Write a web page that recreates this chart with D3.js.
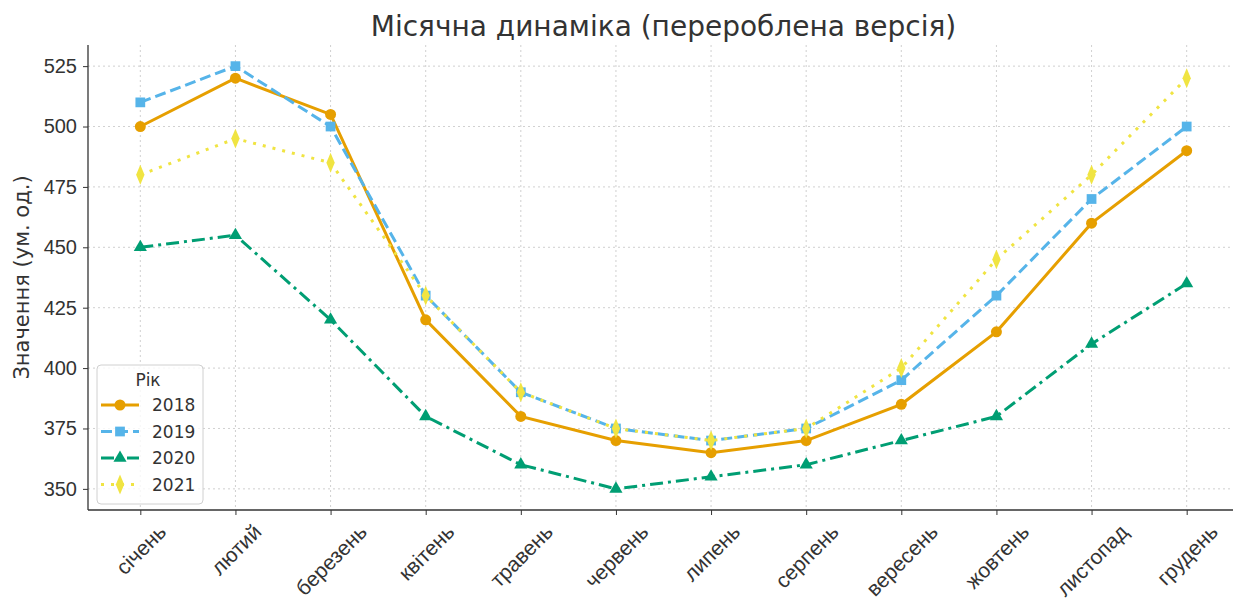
<!DOCTYPE html>
<html>
<head>
<meta charset="utf-8">
<script src="https://cdn.jsdelivr.net/npm/d3@7"></script>
<style>
  body { margin: 0; background: #fff; }
  svg { font-family: "DejaVu Sans", sans-serif; }
</style>
</head>
<body>
<div id="chart"></div>
<script>
var months = ["січень", "лютий", "березень", "квітень", "травень", "червень",
              "липень", "серпень", "вересень", "жовтень", "листопад", "грудень"];
var years = ["2018", "2019", "2020", "2021"];
var v2018 = [500, 520, 505, 420, 380, 370, 365, 370, 385, 415, 460, 490];
var v2019 = [510, 525, 500, 430, 390, 375, 370, 375, 395, 430, 470, 500];
var v2020 = [450, 455, 420, 380, 360, 350, 355, 360, 370, 380, 410, 435];
var v2021 = [480, 495, 485, 430, 390, 375, 370, 375, 400, 445, 480, 520];
var yTicks = [350, 375, 400, 425, 450, 475, 500, 525];

var colors = ["#E69F00", "#56B4E9", "#009E73", "#F0E442"];
var dashes = [null, "11,5", "13,5,3,5", "3,7"];
var symbols = [d3.symbolCircle, d3.symbolSquare, d3.symbolTriangle, d3.symbolDiamond];

var series = [v2018, v2019, v2020, v2021].map(function(v, i) {
  return { name: years[i], values: v, color: colors[i], dash: dashes[i], symbol: symbols[i] };
});

var W = 1233, H = 599;
var margin = {top: 45, right: -6, bottom: 89, left: 88},
    width = W - margin.left - margin.right,
    height = H - margin.top - margin.bottom;

var svg = d3.select("#chart").append("svg")
    .attr("width", W)
    .attr("height", H);

var g = svg.append("g")
    .attr("transform", "translate(" + margin.left + "," + margin.top + ")");

var x = d3.scaleLinear().domain([-0.55, 11.55]).range([0, width]);
var y = d3.scaleLinear().domain([341.25, 533.75]).range([height, 0]);

// grid
g.append("g").selectAll("line.gx")
    .data(d3.range(months.length))
  .enter().append("line")
    .attr("x1", function(d) { return x(d); })
    .attr("x2", function(d) { return x(d); })
    .attr("y1", 0).attr("y2", height)
    .attr("stroke", "#b0b0b0").attr("stroke-opacity", 0.6)
    .attr("stroke-width", 1).attr("stroke-dasharray", "2,3");

g.append("g").selectAll("line.gy")
    .data(yTicks)
  .enter().append("line")
    .attr("x1", 0).attr("x2", width)
    .attr("y1", function(d) { return y(d); })
    .attr("y2", function(d) { return y(d); })
    .attr("stroke", "#b0b0b0").attr("stroke-opacity", 0.6)
    .attr("stroke-width", 1).attr("stroke-dasharray", "2,3");

// axes
var yAxis = d3.axisLeft(y).tickValues(yTicks).tickSize(5).tickPadding(6);
var yg = g.append("g").call(yAxis);
yg.selectAll("text").style("font-size", "20px").attr("fill", "#333");
yg.selectAll("line").attr("stroke", "#333");
yg.select(".domain").attr("stroke", "#333").attr("stroke-width", 1.3)
    .attr("d", "M0," + height + "V0");

var xAxis = d3.axisBottom(x).tickValues(d3.range(months.length))
    .tickSize(5).tickFormat(function(d) { return months[d]; });
var xg = g.append("g").attr("transform", "translate(0," + height + ")").call(xAxis);
xg.selectAll("line").attr("stroke", "#333");
xg.select(".domain").attr("stroke", "#333").attr("stroke-width", 1.3)
    .attr("d", "M0,0H" + width);
xg.selectAll("text")
    .style("font-size", "21px")
    .attr("fill", "#333")
    .attr("text-anchor", "middle")
    .attr("dominant-baseline", "central")
    .attr("dy", null)
    .each(function(d) {
      var t = d3.select(this);
      var w = this.getComputedTextLength();
      var h = 17;
      var half = (w + h) * Math.SQRT1_2 / 2;
      var cy = 12 + half;
      t.attr("y", 0).attr("x", 0)
       .attr("transform", "translate(0," + cy + ") rotate(-45)");
    });

// lines
var line = d3.line()
    .x(function(d, i) { return x(i); })
    .y(function(d) { return y(d); });

var sg = g.selectAll(".series")
    .data(series)
  .enter().append("g")
    .attr("class", "series");

sg.append("path")
    .attr("d", function(d) { return line(d.values); })
    .attr("fill", "none")
    .attr("stroke", function(d) { return d.color; })
    .attr("stroke-width", 3)
    .attr("stroke-dasharray", function(d) { return d.dash; });

function markerSize(s) { return s === d3.symbolTriangle ? 75 : 95; }
function markerTr(s) { return s === d3.symbolDiamond ? " scale(0.8,1.1)" : ""; }

sg.each(function(s) {
  var sym = d3.symbol().type(s.symbol).size(markerSize(s.symbol));
  d3.select(this).selectAll("path.pt")
      .data(s.values)
    .enter().append("path")
      .attr("class", "pt")
      .attr("d", sym)
      .attr("fill", s.color)
      .attr("transform", function(d, i) {
        return "translate(" + x(i) + "," + y(d) + ")" + markerTr(s.symbol);
      });
});

// title & labels
svg.append("text")
    .attr("x", margin.left + width / 2)
    .attr("y", 36)
    .attr("text-anchor", "middle")
    .style("font-size", "28px")
    .attr("fill", "#333")
    .text("Місячна динаміка (перероблена версія)");

svg.append("text")
    .attr("transform", "translate(29," + (margin.top + height / 2) + ") rotate(-90)")
    .attr("text-anchor", "middle")
    .style("font-size", "21px")
    .attr("fill", "#333")
    .text("Значення (ум. од.)");

// legend
var lg = g.append("g").attr("transform", "translate(" + (97 - margin.left) + "," + (365 - margin.top) + ")");
lg.append("rect")
    .attr("width", 106).attr("height", 139)
    .attr("rx", 4)
    .attr("fill", "#fff").attr("fill-opacity", 0.8)
    .attr("stroke", "#d0d0d0");
lg.append("text")
    .attr("x", 51).attr("y", 21)
    .attr("text-anchor", "middle")
    .style("font-size", "17px")
    .attr("fill", "#333")
    .text("Рік");

var item = lg.selectAll(".item")
    .data(series)
  .enter().append("g")
    .attr("transform", function(d, i) { return "translate(0," + (40 + i * 26.5) + ")"; });

item.append("line")
    .attr("x1", 4).attr("x2", 42)
    .attr("stroke", function(d) { return d.color; })
    .attr("stroke-width", 3)
    .attr("stroke-dasharray", function(d) { return d.dash; });

item.append("path")
    .attr("d", function(d) { return d3.symbol().type(d.symbol).size(markerSize(d.symbol))(); })
    .attr("fill", function(d) { return d.color; })
    .attr("transform", function(d) { return "translate(23,0)" + markerTr(d.symbol); });

item.append("text")
    .attr("x", 55).attr("dy", "0.36em")
    .style("font-size", "17px")
    .attr("fill", "#333")
    .text(function(d) { return d.name; });
</script>
</body>
</html>
